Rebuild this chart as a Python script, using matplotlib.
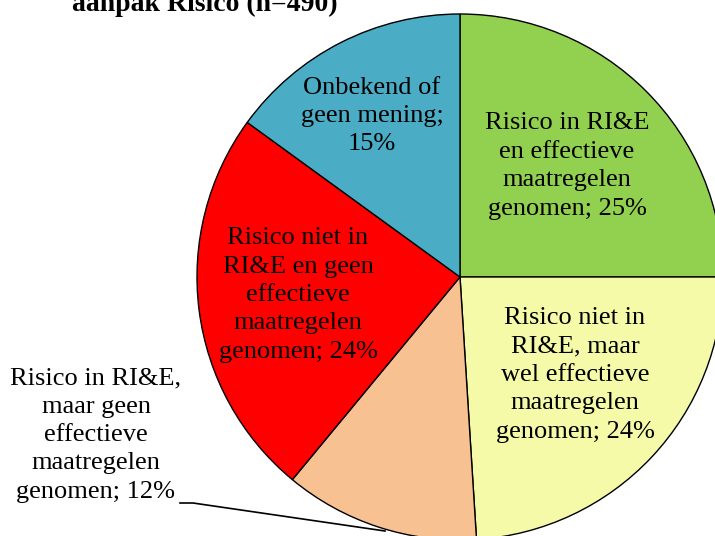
import matplotlib
matplotlib.use("Agg")
import matplotlib.pyplot as plt

categories = [
    "Risico in RI&E\nen effectieve\nmaatregelen\ngenomen",
    "Risico niet in\nRI&E, maar\nwel effectieve\nmaatregelen\ngenomen",
    "Risico in RI&E,\nmaar geen\neffectieve\nmaatregelen\ngenomen",
    "Risico niet in\nRI&E en geen\neffectieve\nmaatregelen\ngenomen",
    "Onbekend of\ngeen mening",
]
values = [25, 24, 12, 24, 15]
colors = ["#92D050", "#F5FAA8", "#F8C192", "#FF0000", "#4BACC6"]
title = "aanpak Risico (n=490)"

plt.rcParams['font.family'] = ['Liberation Serif', 'DejaVu Serif']

fig = plt.figure(figsize=(7.15, 5.36), dpi=100)
ax = fig.add_axes([0, 0, 1, 1])
W, H = 715, 536
cx, cy, r = 460, H - 277, 263

wedges, _ = ax.pie(values, colors=colors, startangle=90, counterclock=False,
                   center=(cx, cy), radius=r,
                   wedgeprops=dict(edgecolor="black", linewidth=1.0))
ax.set_xlim(0, W)
ax.set_ylim(0, H)
ax.set_aspect("equal")
ax.axis("off")

fs = 19
label_pos = [(567, 166), (575, 375), (96, 435), (298, 295), (372, 116)]
for i, (cat, v, (lx, ly)) in enumerate(zip(categories, values, label_pos)):
    sep = ";\n" if i == 4 else "; "
    ax.text(lx, H - ly, f"{cat}{sep}{v}%", ha="center", va="center",
            fontsize=fs, linespacing=1.38)

# leader line for the small outside label
ax.plot([180, 193, 385], [H - 503, H - 503, H - 531], color="black", lw=1.2,
        clip_on=False)

ax.text(72, H - 11, title, ha="left", va="baseline", fontsize=20,
        fontweight="bold", clip_on=False)

fig.savefig("out.png", dpi=100)
